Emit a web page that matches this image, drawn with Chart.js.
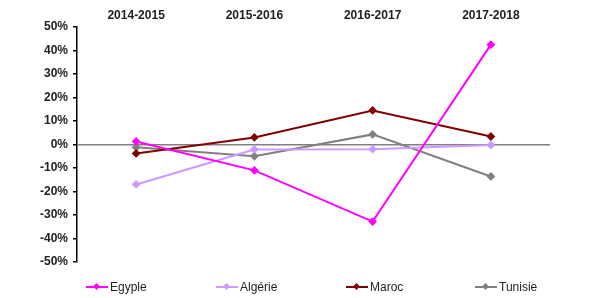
<!DOCTYPE html>
<html>
<head>
<meta charset="utf-8">
<script src="https://cdn.jsdelivr.net/npm/chart.js@4"></script>
<style>
    body { margin: 0; background: #fff; }
    #wrap { position: relative; width: 600px; height: 298px; }
    #legend { position: absolute; left: 0; top: 279px; width: 600px; height: 16px;
              font: 12px "Liberation Sans", Arial, sans-serif; color: #222; }
    .item { position: absolute; top: 0; display: flex; align-items: center; height: 16px; }
    .mark { position: relative; width: 22px; height: 16px; margin-right: 2px; }
    .mark .ln { position: absolute; left: 0; top: 7px; width: 22px; height: 2px; }
    .mark .dm { position: absolute; left: 8px; top: 5px; width: 5px; height: 5px; transform: rotate(45deg); }
</style>
</head>
<body>
<div id="wrap">
    <canvas id="chart" width="600" height="298"></canvas>
    <div id="legend"></div>
</div>
<script>
// DATA

const categories = ["2014-2015", "2015-2016", "2016-2017", "2017-2018"];
const egypte = [1.3, -11, -32.8, 42.5];
const algerie = [-17, -2.1, -2, -0.2];
const maroc = [-3.8, 3, 14.5, 3.4];
const tunisie = [-1.2, -5, 4.3, -13.6];
const seriesNames = ["Egyple", "Algérie", "Maroc", "Tunisie"];
const seriesColors = ["#ff00ff", "#cc99ff", "#800000", "#808080"];

// LEGEND

const legendX = [86, 216, 346, 475];
const legend = document.getElementById("legend");
seriesNames.forEach((name, i) => {
    const item = document.createElement("div");
    item.className = "item";
    item.style.left = legendX[i] + "px";
    item.innerHTML = `<span class="mark"><span class="ln" style="background:${seriesColors[i]}"></span>` +
        `<span class="dm" style="background:${seriesColors[i]}"></span></span><span>${name}</span>`;
    legend.appendChild(item);
});

// CHART

const allSeries = [egypte, algerie, maroc, tunisie];
const datasets = allSeries.map((values, i) => ({
    label: seriesNames[i],
    data: values,
    borderColor: seriesColors[i],
    backgroundColor: seriesColors[i],
    borderWidth: 2,
    pointStyle: "rectRot",
    pointRadius: 3,
    pointHoverRadius: 3,
    tension: 0,
    order: i === 0 ? 0 : 1
}));

new Chart(document.getElementById("chart"), {
    type: "line",
    data: { labels: categories, datasets },
    options: {
        responsive: false,
        animation: false,
        layout: { padding: { left: 0, right: 50, top: 0, bottom: 36 } },
        plugins: { legend: { display: false }, tooltip: { enabled: false } },
        scales: {
            x: {
                position: "top",
                offset: true,
                grid: { display: false },
                border: { display: false },
                ticks: {
                    color: "#222",
                    padding: -4,
                    font: { family: "'Liberation Sans', Arial, sans-serif", size: 12, weight: "bold" }
                },
                afterFit: (axis) => { axis.height = 27; }
            },
            y: {
                min: -50,
                max: 50,
                border: { color: "#000", width: 1.5 },
                grid: {
                    color: (ctx) => ctx.tick && ctx.tick.value === 0 ? "#808080" : "rgba(0,0,0,0)",
                    lineWidth: 1.5,
                    tickColor: "#000",
                    tickLength: 4,
                    drawTicks: true
                },
                ticks: {
                    stepSize: 10,
                    color: "#222",
                    padding: 5,
                    font: { family: "'Liberation Sans', Arial, sans-serif", size: 12, weight: "bold" },
                    callback: (v) => v + "%"
                },
                afterFit: (axis) => { axis.width = 77; }
            }
        }
    }
});
</script>
</body>
</html>
